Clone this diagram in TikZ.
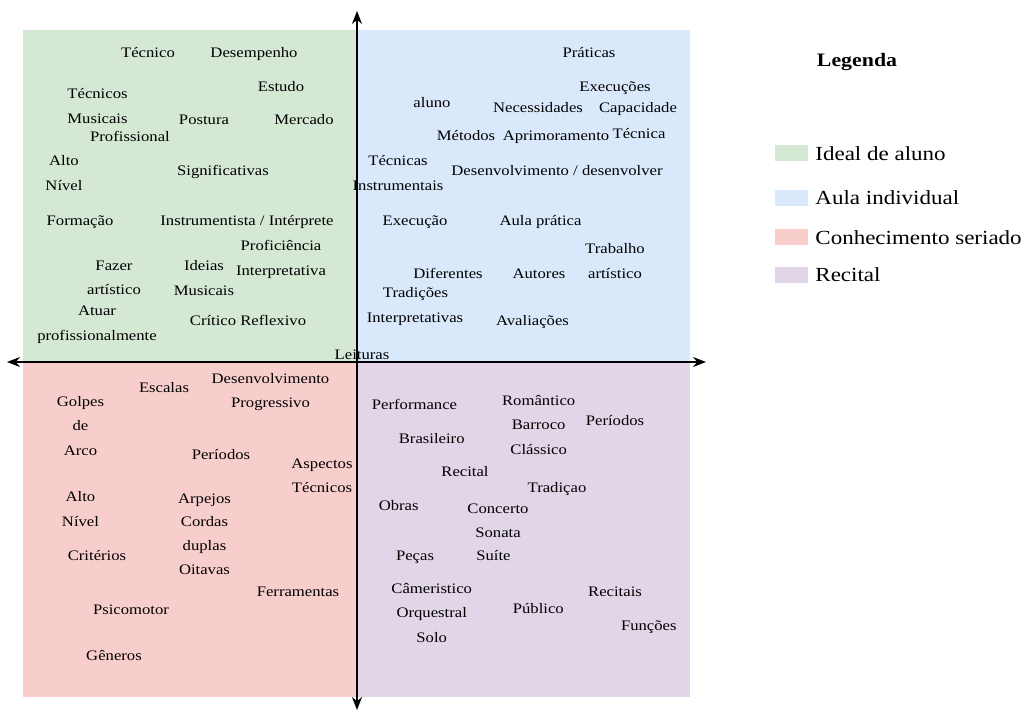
\documentclass[tikz,border=0pt]{standalone}
\usepackage{fontspec}
\setmainfont{Liberation Serif}[FakeStretch=1.15]
\usetikzlibrary{arrows.meta, positioning}
\definecolor{idealverde}{HTML}{D5E8D4}
\definecolor{aulaazul}{HTML}{DAE8FC}
\definecolor{seriadovermelho}{HTML}{F8CECC}
\definecolor{recitalroxo}{HTML}{E1D5E7}

\begin{document}
\begin{tikzpicture}[x=1pt, y=-1pt,
  termo/.style={inner sep=0pt, align=center, text height=10pt, text depth=3.5pt, font=\fontsize{14.5}{24.5}\selectfont},
  bloco/.style={termo, text height=, text depth=},
  eixo/.style={{Stealth[length=13pt, width=10pt]}-{Stealth[length=13pt, width=10pt]}, line width=1.5pt},
  amostra/.style={minimum width=33pt, minimum height=16pt, inner sep=0pt},
  legenda/.style={inner sep=0pt, font=\fontsize{20}{24}\selectfont}
]
  \useasboundingbox (0,0) rectangle (1027,711);

  % Quadrants
  \fill[idealverde] (23,30) rectangle (357,362);
  \fill[aulaazul] (357,30) rectangle (690,362);
  \fill[seriadovermelho] (23,362) rectangle (357,697);
  \fill[recitalroxo] (357,362) rectangle (690,697);

  % Ideal de aluno
  \node[termo] (tecnico) at (148,54) {Técnico};
  \node[termo] (desempenho) at (254,54) {Desempenho};
  \node[bloco] (tecnicosmus) at (97.5,106) {Técnicos\\Musicais};
  \node[termo] (estudo) at (281,88) {Estudo};
  \node[termo] (postura) at (204,121) {Postura};
  \node[termo] (mercado) at (304,121) {Mercado};
  \node[termo] (profissional) at (130,138) {Profissional};
  \node[bloco] (altonivel) at (64,173) {Alto\\Nível};
  \node[termo] (significativas) at (223,172) {Significativas};
  \node[termo] (formacao) at (80,222) {Formação};
  \node[termo] (instrumentista) at (247,222) {Instrumentista / Intérprete};
  \node[termo] (proficiencia) at (281,247) {Proficiência};
  \node[termo] (interpretativa) at (281,272) {Interpretativa};
  \node[bloco] (fazer) at (114,278) {Fazer\\artístico};
  \node[bloco] (ideias) at (204,278) {Ideias\\Musicais};
  \node[bloco] (atuar) at (97,325) {Atuar\\profissionalmente};
  \node[termo] (critico) at (248,322) {Crítico Reflexivo};

  % Aula individual
  \node[termo] (praticas) at (589,54) {Práticas};
  \node[termo] (execucoes) at (615,88) {Execuções};
  \node[termo] (aluno) at (432,104) {aluno};
  \node[termo] (necessidades) at (538,109) {Necessidades};
  \node[termo] (capacidade) at (638,109) {Capacidade};
  \node[termo] (metodos) at (466,137) {Métodos};
  \node[termo] (aprimoramento) at (556,137) {Aprimoramento};
  \node[termo] (tecnica) at (639,135) {Técnica};
  \node[bloco] (tecnicasinstr) at (398,173) {Técnicas\\Instrumentais};
  \node[termo] (desenvolver) at (557,172) {Desenvolvimento / desenvolver};
  \node[termo] (execucao) at (415,222) {Execução};
  \node[termo] (aulapratica) at (540.5,222) {Aula prática};
  \node[bloco] (trabalho) at (615,261) {Trabalho\\artístico};
  \node[termo] (diferentes) at (448,275) {Diferentes};
  \node[termo] (autores) at (539,275) {Autores};
  \node[termo] (tradicoes) at (415.5,294) {Tradições};
  \node[termo] (interpretativas) at (415,319) {Interpretativas};
  \node[termo] (avaliacoes) at (532.5,322) {Avaliações};
  \node[termo] (leituras) at (362,356) {Leituras};

  % Conhecimento seriado
  \node[bloco] (desenvprog) at (270.5,392) {Desenvolvimento\\Progressivo};
  \node[termo] (escalas) at (164,389) {Escalas};
  \node[bloco] (golpes) at (80.5,426) {Golpes\\de\\Arco};
  \node[termo] (periodosser) at (221,456) {Períodos};
  \node[bloco] (aspectos) at (322,476) {Aspectos\\Técnicos};
  \node[bloco] (altonivelser) at (80.5,509) {Alto\\Nível};
  \node[bloco, font=\fontsize{14.5}{23.7}\selectfont] (arpejos) at (204.5,534) {Arpejos\\Cordas\\duplas\\Oitavas};
  \node[termo] (criterios) at (97,557) {Critérios};
  \node[termo] (ferramentas) at (298,593) {Ferramentas};
  \node[termo] (psicomotor) at (131,611) {Psicomotor};
  \node[termo] (generos) at (114,657) {Gêneros};

  % Recital
  \node[termo] (performance) at (414.5,406) {Performance};
  \node[bloco] (romantico) at (538.7,425) {Romântico\\Barroco\\Clássico};
  \node[termo] (periodosrec) at (615,422) {Períodos};
  \node[termo] (brasileiro) at (431.7,440) {Brasileiro};
  \node[termo] (recitalpal) at (465,473) {Recital};
  \node[termo] (tradicao) at (557,489) {Tradiçao};
  \node[termo] (obras) at (398.7,507) {Obras};
  \node[bloco] (concerto) at (498,521) {Concerto\\Sonata};
  \node[termo] (pecas) at (415,557) {Peças};
  \node[termo] (suite) at (493.5,557) {Suíte};
  \node[bloco] (cameristico) at (431.7,613) {Câmeristico\\Orquestral\\Solo};
  \node[termo] (recitais) at (615,593) {Recitais};
  \node[termo] (publico) at (538.3,610) {Público};
  \node[termo] (funcoes) at (648.8,627) {Funções};

  % Axes
  \coordinate (cima) at (357,11);
  \coordinate (baixo) at (357,710);
  \coordinate (esq) at (7,362);
  \coordinate (dir) at (706,362);
  \draw[eixo] (esq) -- (dir);
  \draw[eixo] (baixo) -- (cima);

  % Legend
  \node[legenda, font=\fontsize{19}{24}\selectfont\bfseries] (titulo) at (857,62) {Legenda};
  \node[amostra, fill=idealverde] (am1) at (791.5,153.5) {};
  \node[amostra, fill=aulaazul] (am2) at (791.5,198) {};
  \node[amostra, fill=seriadovermelho] (am3) at (791.5,237.5) {};
  \node[amostra, fill=recitalroxo] (am4) at (791.5,275) {};
  \node[legenda, right=7pt of am1] (leg1) {Ideal de aluno};
  \node[legenda, right=7pt of am2] (leg2) {Aula individual};
  \node[legenda, right=7pt of am3] (leg3) {Conhecimento seriado};
  \node[legenda, right=7pt of am4] (leg4) {Recital};
\end{tikzpicture}
\end{document}
